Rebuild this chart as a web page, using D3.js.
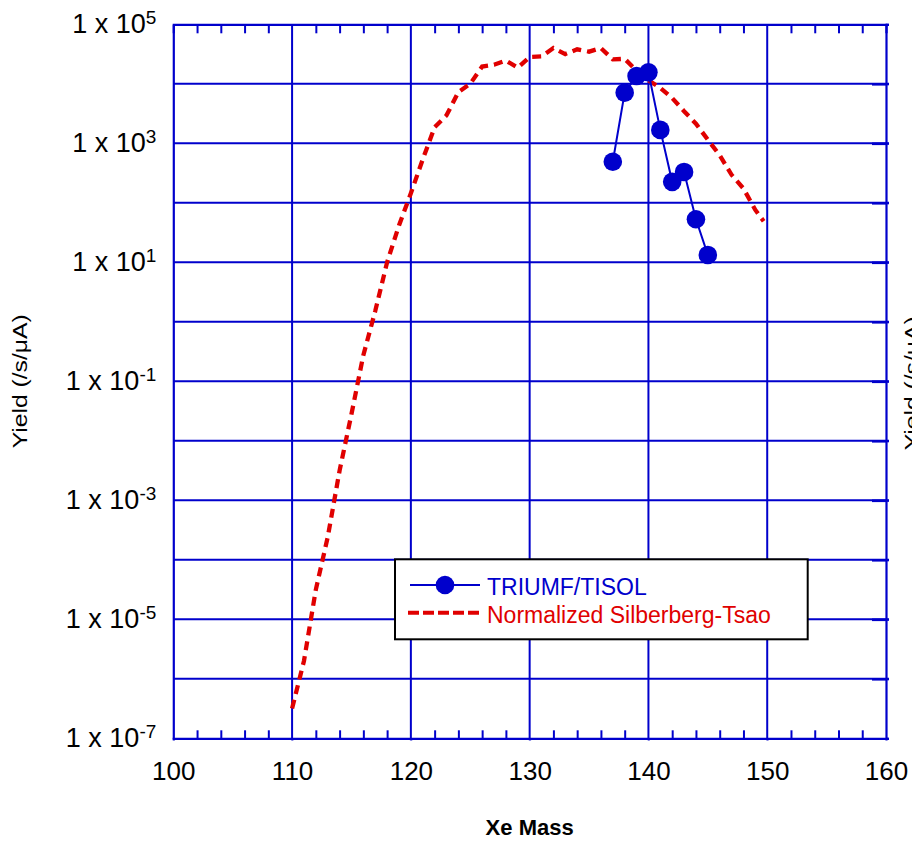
<!DOCTYPE html>
<html>
<head>
<meta charset="utf-8">
<script src="https://cdn.jsdelivr.net/npm/d3@7"></script>
<style>
  html, body { margin: 0; padding: 0; background: #fff; }
  svg { display: block; font-family: Arial, "Liberation Sans", sans-serif; }
</style>
</head>
<body>
<svg id="chart" width="912" height="841"></svg>
<script>
// ---------- data ----------
const triumfMass  = [137, 138, 139, 140, 141, 142, 143, 144, 145];
const triumfYield = [490, 7100, 13500, 15600, 1680, 225, 330, 53, 13.3];

const stMass = [110, 111, 112, 113, 114, 115, 116, 117, 118, 119, 120,
                121, 122, 123, 124, 125, 126, 127, 128, 129, 130,
                131, 132, 133, 134, 135, 136, 137, 138, 139, 140,
                141, 142, 143, 144, 145, 146, 147, 148, 149, 149.7];
const stLogYield = [-6.5, -5.7, -4.5, -3.62, -2.5, -1.55, -0.56, 0.18, 1.0, 1.62, 2.16,
                    2.73, 3.27, 3.47, 3.86, 4.0, 4.29, 4.32, 4.39, 4.27, 4.45,
                    4.46, 4.6, 4.5, 4.58, 4.54, 4.6, 4.41, 4.42, 4.22, 4.06,
                    3.93, 3.76, 3.54, 3.33, 3.06, 2.8, 2.47, 2.24, 1.88, 1.69];

const xTickValues = [100, 110, 120, 130, 140, 150, 160];
const xMinorValues = d3.range(100, 161, 2).filter(v => v % 10 !== 0);
const yTickExponents = [5, 3, 1, -1, -3, -5, -7];
const yGridExponents = [-6, -5, -4, -3, -2, -1, 0, 1, 2, 3, 4];
const xLabel = "Xe Mass";
const yLabel = "Yield (/s/\u03BCA)";
const legendLabels = ["TRIUMF/TISOL", "Normalized Silberberg-Tsao"];

// ---------- layout ----------
const L = 173.3, R = 886, T = 24.3, B = 738.3;
const BLUE = "#0000cc", RED = "#e00000";

const svg = d3.select("#chart");
const x = d3.scaleLinear().domain([100, 160]).range([L, R]);
const y = d3.scaleLog().domain([1e-7, 1e5]).range([B, T]);

// grid
const grid = svg.append("g").attr("stroke", BLUE).attr("stroke-width", 2);
grid.selectAll("line.v").data([110, 120, 130, 140, 150]).join("line")
  .attr("x1", d => x(d)).attr("x2", d => x(d)).attr("y1", T).attr("y2", B + 2);
grid.selectAll("line.h").data(yGridExponents).join("line")
  .attr("x1", L).attr("x2", R + 3).attr("y1", d => y(Math.pow(10, d))).attr("y2", d => y(Math.pow(10, d)));

// axes
const fontTick = "27px";
const xAxis = svg.append("g").attr("transform", `translate(0,${B})`)
  .call(d3.axisBottom(x).tickValues(xTickValues).tickSize(2).tickPadding(21).tickFormat(d3.format("d")));
xAxis.select(".domain").attr("stroke", BLUE).attr("stroke-width", 2.2);
xAxis.selectAll(".tick line").attr("stroke", BLUE).attr("stroke-width", 2);
xAxis.selectAll("text").attr("font-size", "26px").attr("fill", "#000").attr("font-family", "Arial, 'Liberation Sans', sans-serif");

const xMinorB = svg.append("g").attr("transform", `translate(0,${B})`)
  .call(d3.axisBottom(x).tickValues(xMinorValues).tickSize(-8).tickFormat(""));
xMinorB.select(".domain").remove();
xMinorB.selectAll(".tick line").attr("stroke", BLUE).attr("stroke-width", 2);

const xTop = svg.append("g").attr("transform", `translate(0,${T})`)
  .call(d3.axisTop(x).tickValues(xMinorValues).tickSize(-9).tickFormat(""));
xTop.select(".domain").attr("stroke", BLUE).attr("stroke-width", 2.2);
xTop.selectAll(".tick line").attr("stroke", BLUE).attr("stroke-width", 2);

const yAxis = svg.append("g").attr("transform", `translate(${L},0)`)
  .call(d3.axisLeft(y).tickValues(yTickExponents.map(e => Math.pow(10, e))).tickSize(0).tickPadding(17).tickFormat(() => ""));
yAxis.select(".domain").attr("stroke", BLUE).attr("stroke-width", 2.2);
yAxis.selectAll(".tick text").each(function(d) {
  const t = d3.select(this).attr("font-size", fontTick).attr("fill", "#000")
    .attr("font-family", "Arial, 'Liberation Sans', sans-serif");
  t.text(null);
  const e = Math.round(Math.log10(d));
  t.append("tspan").text("1 x 10");
  t.append("tspan").attr("font-size", "19px").attr("dy", "-9").text(String(e));
});

const yRight = svg.append("g").attr("transform", `translate(${R},0)`)
  .call(d3.axisRight(y).tickValues(yGridExponents.concat([5, -7]).map(e => Math.pow(10, e))).tickSize(3).tickFormat(""));
yRight.select(".domain").attr("stroke", BLUE).attr("stroke-width", 2.2);
yRight.selectAll(".tick line").attr("stroke", BLUE).attr("stroke-width", 2);
const yRightIn = svg.append("g").attr("transform", `translate(${R},0)`)
  .call(d3.axisRight(y).tickValues(yGridExponents.map(e => Math.pow(10, e))).tickSize(-14).tickFormat(""));
yRightIn.select(".domain").remove();
yRightIn.selectAll(".tick line").attr("stroke", BLUE).attr("stroke-width", 2.6);

// axis titles
svg.append("text").attr("x", (L + R) / 2).attr("y", 835).attr("text-anchor", "middle")
  .attr("font-size", "22px").attr("font-weight", "bold").attr("fill", "#000").text(xLabel);
svg.append("text").attr("transform", `translate(27,${(T + B) / 2}) rotate(-90)`).attr("text-anchor", "middle")
  .attr("font-size", "20px").attr("fill", "#000").attr("textLength", 134).attr("lengthAdjust", "spacingAndGlyphs").text(yLabel);
svg.append("text").attr("transform", `translate(919,${(T + B) / 2 + 2}) rotate(-90)`).attr("text-anchor", "middle")
  .attr("font-size", "20px").attr("fill", "#000").attr("textLength", 134).attr("lengthAdjust", "spacingAndGlyphs").text(yLabel);

// Silberberg-Tsao dashed curve
const stData = stMass.map((m, i) => [m, Math.pow(10, stLogYield[i])]);
svg.append("path").datum(stData)
  .attr("fill", "none").attr("stroke", RED).attr("stroke-width", 4.3)
  .attr("stroke-dasharray", "9,6")
  .attr("d", d3.line().x(d => x(d[0])).y(d => y(d[1])));

// TRIUMF series
const trData = triumfMass.map((m, i) => [m, triumfYield[i]]);
svg.append("path").datum(trData)
  .attr("fill", "none").attr("stroke", BLUE).attr("stroke-width", 2)
  .attr("d", d3.line().x(d => x(d[0])).y(d => y(d[1])));
svg.append("g").selectAll("circle").data(trData).join("circle")
  .attr("cx", d => x(d[0])).attr("cy", d => y(d[1])).attr("r", 9.3).attr("fill", BLUE);

// legend
const lg = svg.append("g");
lg.append("rect").attr("x", 395).attr("y", 559.3).attr("width", 412.7).attr("height", 80)
  .attr("fill", "#fff").attr("stroke", "#000").attr("stroke-width", 2);
lg.append("line").attr("x1", 410).attr("x2", 480).attr("y1", 585).attr("y2", 585)
  .attr("stroke", BLUE).attr("stroke-width", 2);
lg.append("circle").attr("cx", 445).attr("cy", 585).attr("r", 9.3).attr("fill", BLUE);
lg.append("text").attr("x", 487).attr("y", 595).attr("font-size", "23px").attr("fill", BLUE).text(legendLabels[0]);
lg.append("line").attr("x1", 408).attr("x2", 481).attr("y1", 612.7).attr("y2", 612.7)
  .attr("stroke", RED).attr("stroke-width", 4).attr("stroke-dasharray", "11,4");
lg.append("text").attr("x", 487).attr("y", 622.7).attr("font-size", "23px").attr("fill", RED).text(legendLabels[1]);
</script>
</body>
</html>
